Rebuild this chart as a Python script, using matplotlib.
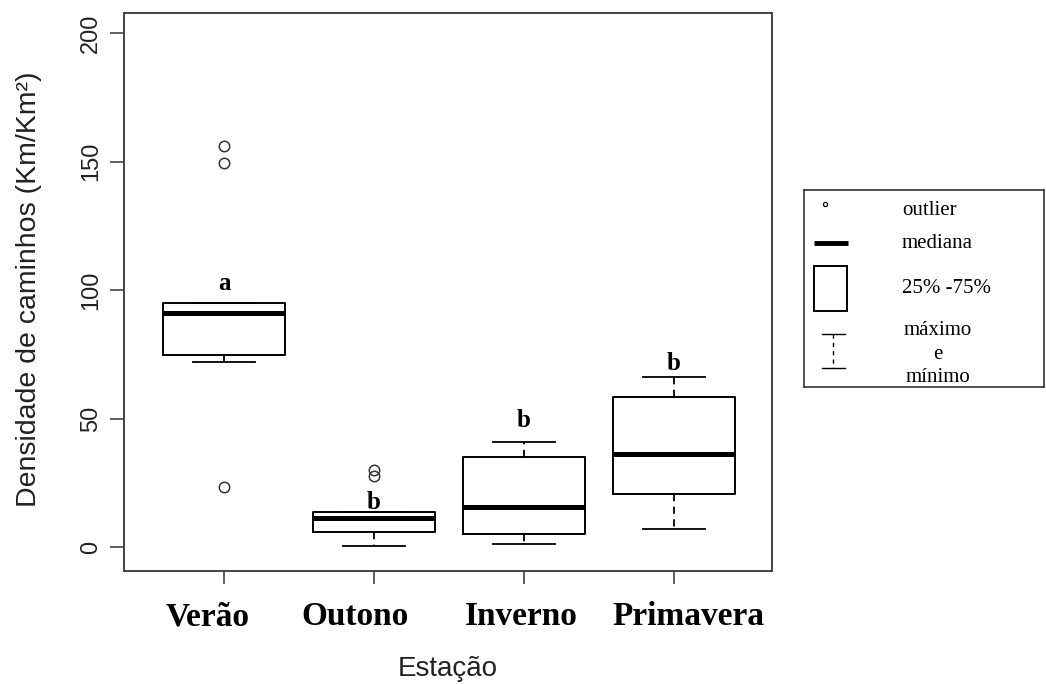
import matplotlib
matplotlib.use("Agg")
import matplotlib.pyplot as plt
from matplotlib.patches import Rectangle
from matplotlib.transforms import ScaledTranslation, blended_transform_factory

# ---- data ----
seasons = ["Verão", "Outono", "Inverno", "Primavera"]
q1 = [74.7, 5.8, 5.1, 20.6]
medians = [91.1, 11.3, 15.6, 36.2]
q3 = [94.9, 13.6, 35.0, 58.4]
whisker_low = [72.0, 0.5, 1.2, 7.0]
whisker_high = [94.9, 13.6, 40.9, 66.1]
outliers = [[156.0, 149.4, 23.3], [30.0, 27.6], [], []]
group_letters = ["a", "b", "b", "b"]
letter_y = [102.7, 17.5, 49.4, 71.6]
y_ticks = [0, 50, 100, 150, 200]

W, H = 1046, 684
fig = plt.figure(figsize=(W / 100, H / 100), dpi=100)
fig.patch.set_facecolor("white")

ax_l, ax_t, ax_r, ax_b = 124, 13, 772, 571
ax = fig.add_axes([ax_l / W, 1 - ax_b / H, (ax_r - ax_l) / W, (ax_b - ax_t) / H])

positions = list(range(1, len(seasons) + 1))
stats = []
for i in range(len(seasons)):
    stats.append(dict(med=medians[i], q1=q1[i], q3=q3[i],
                      whislo=whisker_low[i], whishi=whisker_high[i],
                      fliers=outliers[i], label=seasons[i]))

ax.bxp(stats, positions=positions, widths=0.81, capwidths=0.41,
       showfliers=True, patch_artist=False,
       boxprops=dict(color="black", linewidth=1.4),
       medianprops=dict(color="black", linewidth=3.6, solid_capstyle="butt"),
       whiskerprops=dict(color="black", linewidth=1.3, linestyle=(0, (4, 3))),
       capprops=dict(color="black", linewidth=1.3),
       flierprops=dict(marker="o", markersize=7.5, markerfacecolor="none",
                       markeredgecolor="#333333", markeredgewidth=1.1))

for p, let, ly in zip(positions, group_letters, letter_y):
    ax.text(p, ly, let, ha="center", va="center", fontsize=18,
            fontweight="bold", family="Liberation Serif")

ax.set_xlim(0.333, 4.653)
ax.set_ylim(-9.3, 207.8)
ax.set_yticks(y_ticks)
ax.set_yticklabels([str(t) for t in y_ticks], rotation=90, va="center",
                   fontsize=17, family="Liberation Sans", color="#222222")
ax.set_xticks(positions)
ax.set_xticklabels([""] * len(seasons))

# season labels, slightly shifted horizontally as in the reference (pixels)
label_shift_px = [-16, -19, -3, 14]
base = blended_transform_factory(ax.transData, ax.transAxes)
for p, name, dx in zip(positions, seasons, label_shift_px):
    ax.text(p, -0.097, name, ha="center", va="baseline", fontsize=24,
            fontweight="bold", family="Liberation Serif", clip_on=False,
            transform=base + ScaledTranslation(dx / 100, 0, fig.dpi_scale_trans))

ax.tick_params(axis="y", length=10, width=1.2, color="#444444", pad=6)
ax.tick_params(axis="x", length=9, width=1.2, color="#444444", pad=11)
for s in ax.spines.values():
    s.set_color("#444444")
    s.set_linewidth(1.4)

ax.set_ylabel("Densidade de caminhos (Km/Km²)", fontsize=20.5,
              family="Liberation Sans", color="#222222")
ax.yaxis.set_label_coords(-0.127, 0.505)
ax.set_xlabel("Estação", fontsize=20, family="Liberation Sans", color="#222222")
ax.xaxis.set_label_coords(0.5, -0.152)

# ---- legend box drawn in pixel coordinates ----
lx0, ly0, lx1, ly1 = 804, 190, 1044, 387
lax = fig.add_axes([lx0 / W, 1 - ly1 / H, (lx1 - lx0) / W, (ly1 - ly0) / H])
lax.set_xlim(lx0, lx1)
lax.set_ylim(ly1, ly0)
lax.set_xticks([])
lax.set_yticks([])
for s in lax.spines.values():
    s.set_color("#333333")
    s.set_linewidth(1.2)

serif = "Liberation Serif"
fs = 15
lax.plot([825], [204], marker="o", markersize=3, markerfacecolor="none",
         markeredgecolor="black", markeredgewidth=0.9)
lax.text(902, 210, "outlier", ha="left", va="center", fontsize=fs, family=serif)
lax.plot([814, 848], [243, 243], color="black", linewidth=3.5, solid_capstyle="butt")
lax.text(902, 243, "mediana", ha="left", va="center", fontsize=fs, family=serif)
lax.add_patch(Rectangle((814, 266), 33, 45, fill=False, edgecolor="black", linewidth=1.4))
lax.text(902, 288, "25% -75%", ha="left", va="center", fontsize=fs, family=serif)
lax.plot([822, 845], [334, 334], color="black", linewidth=1.0)
lax.plot([822, 845], [368, 368], color="black", linewidth=1.0)
lax.plot([833, 833], [334, 368], color="black", linewidth=1.0, linestyle=(0, (3, 3)))
lax.text(938, 330, "máximo", ha="center", va="center", fontsize=fs, family=serif)
lax.text(938, 354, "e", ha="center", va="center", fontsize=fs, family=serif)
lax.text(938, 377, "mínimo", ha="center", va="center", fontsize=fs, family=serif)

fig.savefig("out.png", dpi=100, facecolor="white")
